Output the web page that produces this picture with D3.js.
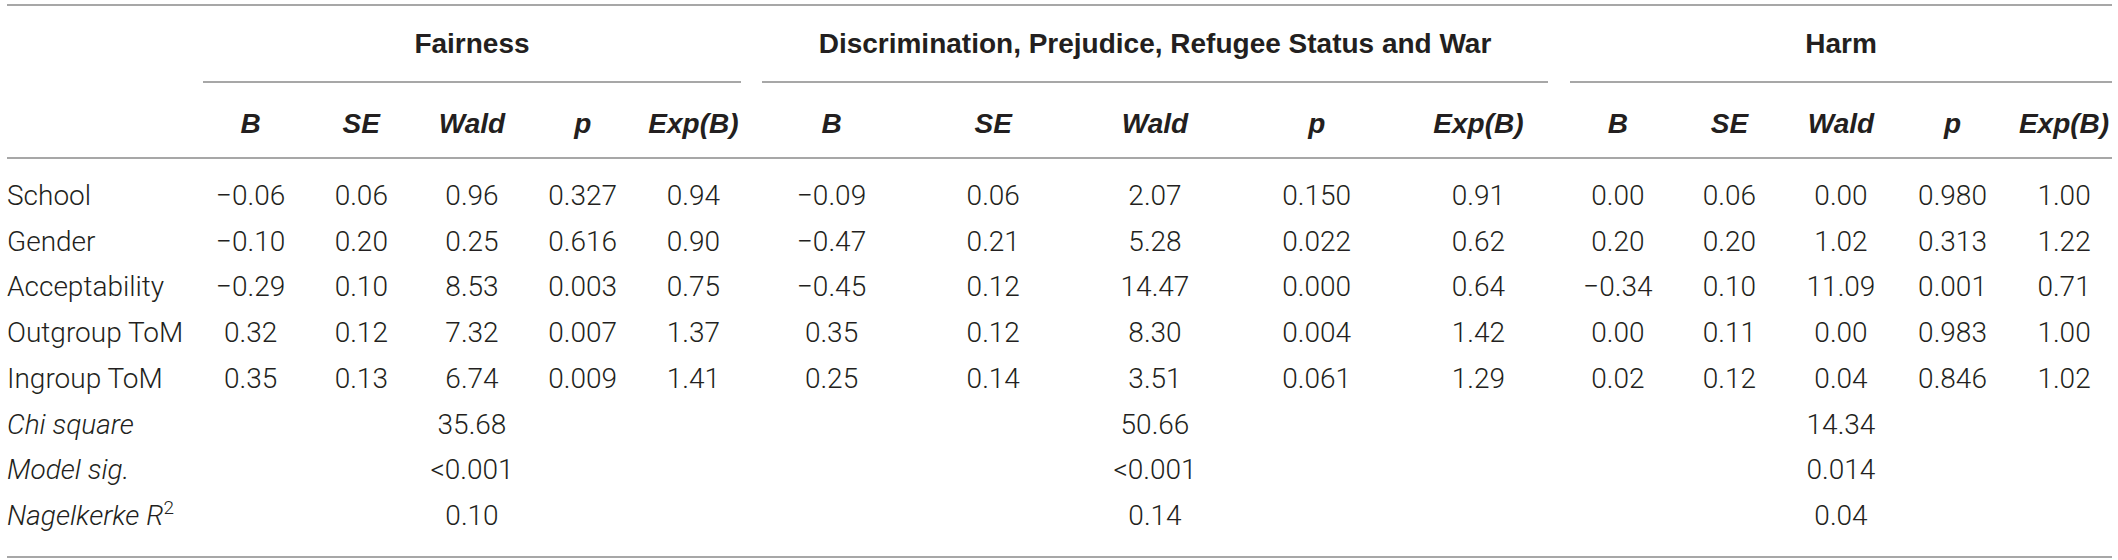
<!DOCTYPE html>
<html>
<head>
<meta charset="utf-8">
<script src="https://cdn.jsdelivr.net/npm/d3@7"></script>
<style>
	body { margin: 0; background: #fff; }
	svg text { fill: #231f20; }
	.body-text { font-family: Roboto, "Liberation Sans", sans-serif; font-weight: 300; font-size: 28px; }
	.head-text { font-family: "Liberation Sans", Arial, sans-serif; font-weight: bold; font-size: 28px; }
	.rule { stroke: #8a8a8a; stroke-width: 1.5; }
</style>
</head>
<body>
<svg class="reg-table"></svg>
<script>
var groupNames = ['Fairness', 'Discrimination, Prejudice, Refugee Status and War', 'Harm'];
var statNames = ['B', 'SE', 'Wald', 'p', 'Exp(B)'];
var predictors = ['School', 'Gender', 'Acceptability', 'Outgroup ToM', 'Ingroup ToM'];
var modelRows = ['Chi square', 'Model sig.', 'Nagelkerke R'];

var fairnessB = [-0.06, -0.10, -0.29, 0.32, 0.35];
var fairnessSE = [0.06, 0.20, 0.10, 0.12, 0.13];
var fairnessWald = [0.96, 0.25, 8.53, 7.32, 6.74];
var fairnessP = [0.327, 0.616, 0.003, 0.007, 0.009];
var fairnessExp = [0.94, 0.90, 0.75, 1.37, 1.41];

var discB = [-0.09, -0.47, -0.45, 0.35, 0.25];
var discSE = [0.06, 0.21, 0.12, 0.12, 0.14];
var discWald = [2.07, 5.28, 14.47, 8.30, 3.51];
var discP = [0.150, 0.022, 0.000, 0.004, 0.061];
var discExp = [0.91, 0.62, 0.64, 1.42, 1.29];

var harmB = [0.00, 0.20, -0.34, 0.00, 0.02];
var harmSE = [0.06, 0.20, 0.10, 0.11, 0.12];
var harmWald = [0.00, 1.02, 11.09, 0.00, 0.04];
var harmP = [0.980, 0.313, 0.001, 0.983, 0.846];
var harmExp = [1.00, 1.22, 0.71, 1.00, 1.02];

var chiSquare = [35.68, 50.66, 14.34];
var modelSig = ['<0.001', '<0.001', '0.014'];
var nagelkerke = [0.10, 0.14, 0.04];

var table = {
	width: 2118,
	height: 560,
	groupSpans: [[203, 741], [762, 1548], [1570, 2112]],
	initialize: function(){
		var self = this;
		self.svg = d3.select('svg.reg-table')
			.attr('width', self.width)
			.attr('height', self.height);
		self.groupData = [
			[fairnessB, fairnessSE, fairnessWald, fairnessP, fairnessExp],
			[discB, discSE, discWald, discP, discExp],
			[harmB, harmSE, harmWald, harmP, harmExp]
		];
		self.rowScale = d3.scalePoint()
			.domain(predictors.concat(modelRows))
			.range([195, 515]);
		self.colScales = self.groupSpans.map(function(span){
			return d3.scalePoint().domain(statNames).range(span).padding(0.43);
		});
		self._draw_rules();
		self._draw_headers();
		self._draw_cells();
	},
	_draw_rules: function(){
		var self = this;
		var svg = self.svg;
		var full = [[7, 2112, 5], [7, 2112, 158], [7, 2112, 557]];
		svg.selectAll('.full-rule')
			.data(full)
			.enter()
			.append('line')
			.attr('class', 'rule full-rule')
			.attr('x1', function(d){ return d[0]; })
			.attr('x2', function(d){ return d[1]; })
			.attr('y1', function(d){ return d[2]; })
			.attr('y2', function(d){ return d[2]; });
		svg.selectAll('.group-rule')
			.data(self.groupSpans)
			.enter()
			.append('line')
			.attr('class', 'rule group-rule')
			.attr('x1', function(d){ return d[0]; })
			.attr('x2', function(d){ return d[1]; })
			.attr('y1', 82)
			.attr('y2', 82);
	},
	_draw_headers: function(){
		var self = this;
		var svg = self.svg;
		svg.selectAll('.group-title')
			.data(groupNames)
			.enter()
			.append('text')
			.attr('class', 'head-text group-title')
			.attr('x', function(d, i){ return (self.groupSpans[i][0] + self.groupSpans[i][1]) / 2; })
			.attr('y', 53)
			.attr('text-anchor', 'middle')
			.text(function(d){ return d; });
		self.colScales.forEach(function(x, g){
			svg.selectAll('.stat-head-' + g)
				.data(statNames)
				.enter()
				.append('text')
				.attr('class', 'head-text stat-head-' + g)
				.attr('x', function(d){ return x(d); })
				.attr('y', 133)
				.attr('text-anchor', 'middle')
				.style('font-style', 'italic')
				.text(function(d){ return d; });
		});
	},
	_draw_cells: function(){
		var self = this;
		var svg = self.svg;
		var y = self.rowScale;
		var f2 = d3.format('.2f');
		var f3 = d3.format('.3f');
		var dy = 10;
		//row labels
		var labels = svg.selectAll('.row-label')
			.data(predictors.concat(modelRows))
			.enter()
			.append('text')
			.attr('class', 'body-text row-label')
			.attr('x', 7)
			.attr('y', function(d){ return y(d) + dy; })
			.style('font-style', function(d){ return modelRows.indexOf(d) >= 0 ? 'italic' : 'normal'; })
			.text(function(d){ return d; });
		labels.filter(function(d){ return d == 'Nagelkerke R'; })
			.append('tspan')
			.attr('dy', -11)
			.style('font-size', '19px')
			.style('font-style', 'normal')
			.text('2');
		//coefficient cells
		self.groupData.forEach(function(cols, g){
			var x = self.colScales[g];
			var cells = [];
			cols.forEach(function(values, c){
				values.forEach(function(v, r){
					cells.push({stat: statNames[c], row: predictors[r], text: statNames[c] == 'p' ? f3(v) : f2(v)});
				});
			});
			svg.selectAll('.cell-' + g)
				.data(cells)
				.enter()
				.append('text')
				.attr('class', 'body-text cell-' + g)
				.attr('x', function(d){ return x(d.stat); })
				.attr('y', function(d){ return y(d.row) + dy; })
				.attr('text-anchor', 'middle')
				.text(function(d){ return d.text; });
			//model summary goes under Wald
			var summary = [
				{row: modelRows[0], text: f2(chiSquare[g])},
				{row: modelRows[1], text: modelSig[g]},
				{row: modelRows[2], text: f2(nagelkerke[g])}
			];
			svg.selectAll('.summary-' + g)
				.data(summary)
				.enter()
				.append('text')
				.attr('class', 'body-text summary-' + g)
				.attr('x', x('Wald'))
				.attr('y', function(d){ return y(d.row) + dy; })
				.attr('text-anchor', 'middle')
				.text(function(d){ return d.text; });
		});
	}
};
table.initialize();
</script>
</body>
</html>
